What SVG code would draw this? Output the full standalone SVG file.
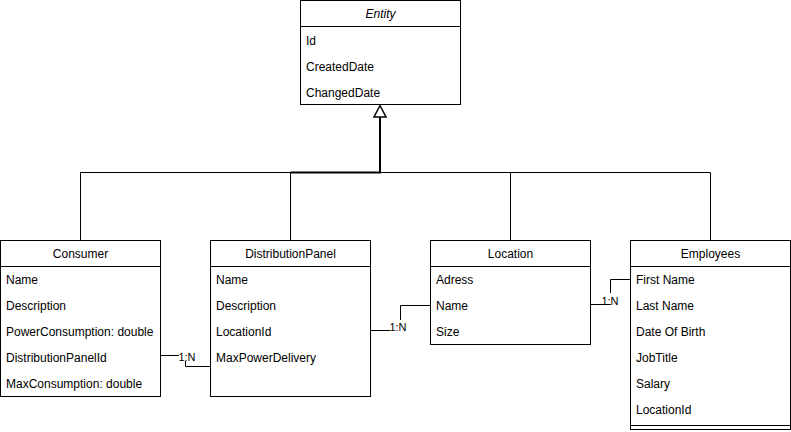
<svg xmlns="http://www.w3.org/2000/svg" width="791" height="432" viewBox="0 0 791 432">
<style>
.box{fill:#fff;stroke:#000;stroke-width:1}
.sep{stroke:#000;stroke-width:1;fill:none}
.t{font-family:"Liberation Sans",Arial,sans-serif;font-size:12px;fill:#000}
.h{text-anchor:middle}
.i{font-style:italic}
.c{fill:none;stroke:#000;stroke-width:1}
.lbl{font-family:"Liberation Sans",Arial,sans-serif;font-size:11px;fill:#000;text-anchor:middle}
.bg{fill:#fff;stroke:none}
</style>
<rect width="791" height="432" fill="#fff"/>
<g id="connectors">
  <path class="c" d="M80.5,240 V172.5 H380"/>
  <path class="c" d="M710.5,240 V172.5 H380"/>
  <path class="c" d="M510.5,240 V172.5"/>
  <path class="c" d="M290.5,240 V172.5"/>
  <path class="c" style="stroke-width:2" d="M290.5,172.5 H380 V117"/>
  <polygon points="380,105.5 374,117 386,117" fill="#fff" stroke="#000" stroke-width="1.5"/>
  <path class="c" d="M160.5,355.5 H185.5 V366.5 H210.5"/>
  <rect class="bg" x="179" y="349" width="15" height="12"/>
  <text class="lbl" x="187" y="361">1:N</text>
  <path class="c" d="M370.5,330.5 H400.5 V305.5 H430.5"/>
  <rect class="bg" x="390" y="320" width="16" height="12"/>
  <text class="lbl" x="398" y="331">1:N</text>
  <path class="c" d="M590.5,304.5 H610.5 V279.5 H630.5"/>
  <rect class="bg" x="601" y="293" width="17" height="11"/>
  <text class="lbl" x="610" y="305">1:N</text>
</g>
<g id="entity">
  <rect class="box" x="300.5" y="0.5" width="160" height="104"/>
  <line class="sep" x1="300.5" y1="26.5" x2="460.5" y2="26.5"/>
  <text class="t h i" x="380.5" y="18">Entity</text>
  <text class="t" x="306" y="45">Id</text>
  <text class="t" x="306" y="71">CreatedDate</text>
  <text class="t" x="306" y="97">ChangedDate</text>
</g>
<g id="consumer">
  <rect class="box" x="0.5" y="240.5" width="160" height="156"/>
  <line class="sep" x1="0.5" y1="266.5" x2="160.5" y2="266.5"/>
  <text class="t h" x="80.5" y="258">Consumer</text>
  <text class="t" x="6" y="284">Name</text>
  <text class="t" x="6" y="310">Description</text>
  <text class="t" x="6" y="336">PowerConsumption: double</text>
  <text class="t" x="6" y="362">DistributionPanelId</text>
  <text class="t" x="6" y="388">MaxConsumption: double</text>
</g>
<g id="distributionpanel">
  <rect class="box" x="210.5" y="240.5" width="160" height="156"/>
  <line class="sep" x1="210.5" y1="266.5" x2="370.5" y2="266.5"/>
  <text class="t h" x="290.5" y="258">DistributionPanel</text>
  <text class="t" x="216" y="284">Name</text>
  <text class="t" x="216" y="310">Description</text>
  <text class="t" x="216" y="336">LocationId</text>
  <text class="t" x="216" y="362">MaxPowerDelivery</text>
</g>
<g id="location">
  <rect class="box" x="430.5" y="240.5" width="160" height="104"/>
  <line class="sep" x1="430.5" y1="266.5" x2="590.5" y2="266.5"/>
  <text class="t h" x="510.5" y="258">Location</text>
  <text class="t" x="436" y="284">Adress</text>
  <text class="t" x="436" y="310">Name</text>
  <text class="t" x="436" y="336">Size</text>
</g>
<g id="employees">
  <rect class="box" x="630.5" y="240.5" width="160" height="189"/>
  <line class="sep" x1="630.5" y1="266.5" x2="790.5" y2="266.5"/>
  <line class="sep" x1="630.5" y1="425.5" x2="790.5" y2="425.5"/>
  <text class="t h" x="710.5" y="258">Employees</text>
  <text class="t" x="636" y="284">First Name</text>
  <text class="t" x="636" y="310">Last Name</text>
  <text class="t" x="636" y="336">Date Of Birth</text>
  <text class="t" x="636" y="362">JobTitle</text>
  <text class="t" x="636" y="388">Salary</text>
  <text class="t" x="636" y="414">LocationId</text>
</g>
</svg>
